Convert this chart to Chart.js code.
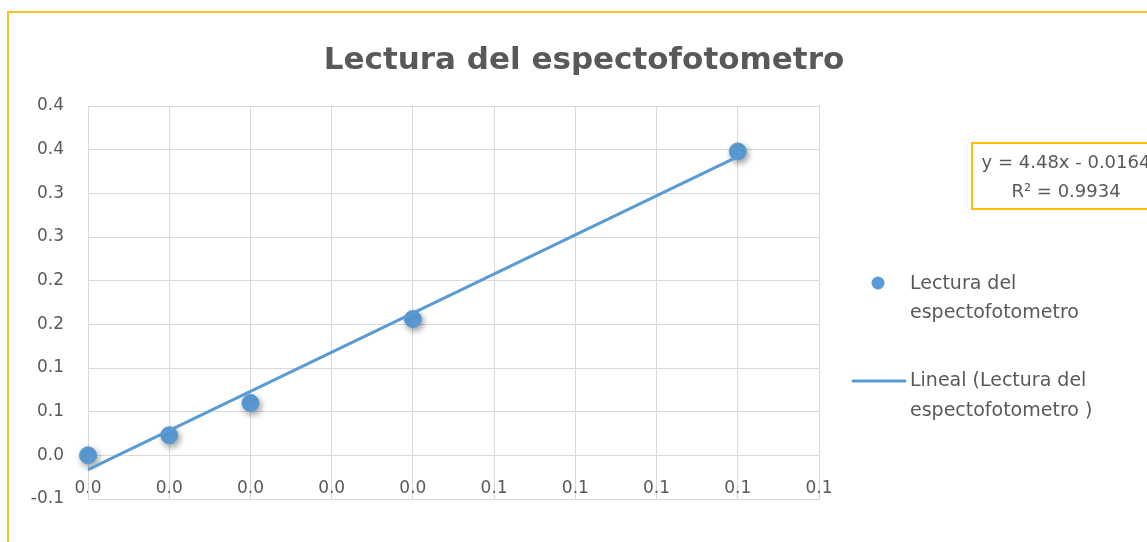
<!DOCTYPE html>
<html>
<head>
<meta charset="utf-8">
<title>Lectura del espectofotometro</title>
<script src="https://cdn.jsdelivr.net/npm/chart.js@4/dist/chart.umd.min.js"></script>
<style>
  html, body { margin: 0; padding: 0; background: #ffffff; overflow: hidden; }
  #wrap { position: relative; width: 1147px; height: 542px; overflow: hidden; }
  #wrap canvas { position: absolute; left: 0; top: 0; }
  #frame {
    position: absolute; left: 7px; top: 11px; width: 1200px; height: 600px;
    border-left: 2px solid #f8c21c; border-top: 2px solid #f8c21c;
    pointer-events: none;
  }
</style>
</head>
<body>
<div id="wrap">
  <canvas id="chart" width="1147" height="542"></canvas>
  <div id="frame"></div>
</div>
<script>
// Measured series
const concentracion = [0, 0.01, 0.02, 0.04, 0.08];
const lectura = [0.000, 0.023, 0.060, 0.156, 0.348];

// Linear trendline: y = slope * x + intercept
const trendCoef = [4.48, -0.0164];
const rSquared = [0.9934];

// Axis tick labels (one decimal place)
const xTickLabels = ['0.0', '0.0', '0.0', '0.0', '0.0', '0.1', '0.1', '0.1', '0.1', '0.1'];
const yTickLabels = ['-0.1', '0.0', '0.1', '0.1', '0.2', '0.2', '0.3', '0.3', '0.4', '0.4'];

const titleText = 'Lectura del espectofotometro';
const legendSeries = ['Lectura del', 'espectofotometro'];
const legendTrend = ['Lineal (Lectura del', 'espectofotometro )'];

const FONT = '"DejaVu Sans", sans-serif';
const TEXT = '#595959';
const GRID = '#d9d9d9';
const BLUE = '#5b9bd5';

const xEnds = [concentracion[0], concentracion[concentracion.length - 1]];
const trendPoints = xEnds.map(x => ({ x: x, y: trendCoef[0] * x + trendCoef[1] }));
const scatterPoints = concentracion.map((x, i) => ({ x: x, y: lectura[i] }));

function fmt(v) { return String(v); }
const eqLine1 = 'y = ' + fmt(trendCoef[0]) + 'x ' + (trendCoef[1] < 0 ? '- ' : '+ ') + fmt(Math.abs(trendCoef[1]));
const eqLine2 = 'R\u00B2 = ' + fmt(rSquared[0]);

// Soft drop shadow under the markers
const markerShadow = {
  id: 'markerShadow',
  beforeDatasetDraw(chart, args) {
    if (args.index !== 1) return;
    const ctx = chart.ctx;
    ctx.save();
    ctx.shadowColor = 'rgba(0,0,0,0.38)';
    ctx.shadowBlur = 6;
    ctx.shadowOffsetX = 2;
    ctx.shadowOffsetY = 3;
  },
  afterDatasetDraw(chart, args) {
    if (args.index !== 1) return;
    chart.ctx.restore();
  }
};

// Title, legend and trendline equation box
const decorations = {
  id: 'decorations',
  afterDraw(chart) {
    const ctx = chart.ctx;
    ctx.save();

    // title
    ctx.fillStyle = TEXT;
    ctx.font = 'bold 31px ' + FONT;
    ctx.textAlign = 'center';
    ctx.textBaseline = 'middle';
    ctx.fillText(titleText, 584, 61);

    // equation box
    ctx.strokeStyle = '#ffc000';
    ctx.lineWidth = 2;
    ctx.strokeRect(972, 143, 220, 66);
    ctx.font = '18px ' + FONT;
    ctx.fillStyle = TEXT;
    ctx.textAlign = 'center';
    ctx.fillText(eqLine1, 1066, 163);
    ctx.fillText(eqLine2, 1066, 192);

    // legend: series marker
    ctx.fillStyle = BLUE;
    ctx.beginPath();
    ctx.arc(878, 283, 6.5, 0, Math.PI * 2);
    ctx.fill();
    // legend: trendline sample
    ctx.strokeStyle = BLUE;
    ctx.lineWidth = 3;
    ctx.lineCap = 'round';
    ctx.beginPath();
    ctx.moveTo(853, 381);
    ctx.lineTo(905, 381);
    ctx.stroke();

    ctx.fillStyle = TEXT;
    ctx.font = '19px ' + FONT;
    ctx.textAlign = 'left';
    ctx.fillText(legendSeries[0], 910, 284);
    ctx.fillText(legendSeries[1], 910, 313);
    ctx.fillText(legendTrend[0], 910, 381);
    ctx.fillText(legendTrend[1], 910, 411);

    ctx.restore();
  }
};

new Chart(document.getElementById('chart'), {
  type: 'scatter',
  data: {
    datasets: [
      {
        label: legendTrend.join(' '),
        data: trendPoints,
        showLine: true,
        borderColor: BLUE,
        borderWidth: 3,
        pointRadius: 0,
        fill: false,
        order: 0,
        clip: false
      },
      {
        label: legendSeries.join(' '),
        data: scatterPoints,
        backgroundColor: BLUE,
        borderColor: BLUE,
        borderWidth: 1,
        pointRadius: 8.5,
        order: 1,
        clip: false
      }
    ]
  },
  options: {
    responsive: false,
    animation: false,
    events: [],
    layout: { padding: { top: 106, right: 328, left: 0, bottom: 0 } },
    plugins: {
      legend: { display: false },
      title: { display: false },
      tooltip: { enabled: false }
    },
    scales: {
      x: {
        type: 'linear',
        position: 'bottom',
        min: 0,
        max: 0.09,
        grid: { color: GRID, lineWidth: 1, drawTicks: false },
        border: { color: GRID, width: 1 },
        ticks: {
          stepSize: 0.01,
          autoSkip: false,
          maxRotation: 0,
          mirror: true,
          padding: 0,
          color: TEXT,
          font: { family: FONT, size: 17 },
          callback: (v, i) => xTickLabels[i]
        },
        afterFit(scale) { scale.height = 43; }
      },
      y: {
        type: 'linear',
        min: -0.05,
        max: 0.4,
        grid: { color: GRID, lineWidth: 1, drawTicks: false },
        border: { color: GRID, width: 1 },
        ticks: {
          stepSize: 0.05,
          autoSkip: false,
          padding: 24,
          color: TEXT,
          font: { family: FONT, size: 17 },
          callback: (v, i) => yTickLabels[i]
        },
        afterFit(scale) { scale.width = 88; }
      }
    }
  },
  plugins: [markerShadow, decorations]
});
</script>
</body>
</html>
